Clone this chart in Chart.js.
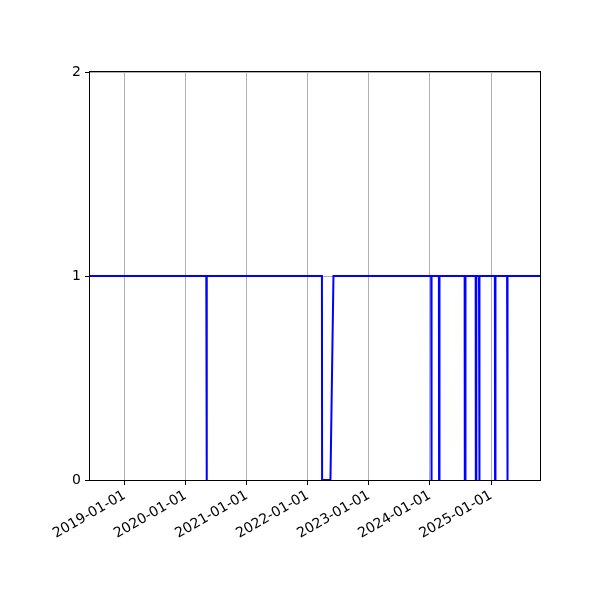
<!DOCTYPE html>
<html>
<head>
<meta charset="utf-8">
<script src="https://cdn.jsdelivr.net/npm/chart.js@4.4.1/dist/chart.umd.min.js"></script>
<style>
  html, body { margin: 0; padding: 0; background: #fff; }
</style>
</head>
<body>
<canvas id="chart" width="600" height="600"></canvas>
<script>
// sample dates and the value at each one
const dates = [
  '2018-06-07', '2020-05-03', '2020-05-04', '2020-05-06', '2020-05-07',
  '2022-03-26', '2022-03-27', '2022-05-16', '2022-06-03',
  '2024-01-09', '2024-01-10', '2024-01-11', '2024-01-12',
  '2024-02-24', '2024-02-25', '2024-02-27', '2024-02-28',
  '2024-07-27', '2024-07-28', '2024-07-31', '2024-08-01',
  '2024-10-01', '2024-10-02', '2024-10-04', '2024-10-05',
  '2024-10-21', '2024-10-22', '2024-10-24', '2024-10-25',
  '2025-01-24', '2025-01-25', '2025-01-27', '2025-01-28',
  '2025-04-07', '2025-04-08', '2025-04-10', '2025-04-11',
  '2025-10-21'
];
const values = [
  1, 1, 0, 0, 1,
  1, 0, 0, 1,
  1, 0, 0, 1,
  1, 0, 0, 1,
  1, 0, 0, 1,
  1, 0, 0, 1,
  1, 0, 0, 1,
  1, 0, 0, 1,
  1, 0, 0, 1,
  1
];
const xStart = '2018-06-07';
const xEnd = '2025-10-21';
const tickYears = [2019, 2020, 2021, 2022, 2023, 2024, 2025];
const yTicks = [0, 1, 2];

const toMs = s => Date.parse(s + 'T00:00:00Z');
const points = dates.map((d, i) => ({ x: toMs(d), y: values[i] }));

function fmtDate(ms) {
  const d = new Date(ms);
  const mm = String(d.getUTCMonth() + 1).padStart(2, '0');
  const dd = String(d.getUTCDate()).padStart(2, '0');
  return d.getUTCFullYear() + '-' + mm + '-' + dd;
}

// frame round the plot area (all four spines)
const frame = {
  id: 'frame',
  afterDraw(chart) {
    const a = chart.chartArea;
    const ctx = chart.ctx;
    ctx.save();
    ctx.strokeStyle = '#000';
    ctx.lineWidth = 1;
    ctx.strokeRect(Math.round(a.left) - 0.5, Math.round(a.top) - 0.5,
      Math.round(a.right - a.left) + 1, Math.round(a.bottom - a.top) + 1);
    ctx.restore();
  }
};

Chart.defaults.color = '#000';
Chart.defaults.font.family = '"DejaVu Sans", sans-serif';
Chart.defaults.font.size = 14;

new Chart(document.getElementById('chart').getContext('2d'), {
  type: 'line',
  data: {
    datasets: [{
      data: points,
      borderColor: '#0000ff',
      borderWidth: 2,
      pointRadius: 0,
      tension: 0,
      fill: false
    }]
  },
  options: {
    responsive: false,
    animation: false,
    layout: { padding: { left: 0, top: 72, right: 60, bottom: 0 } },
    plugins: { legend: { display: false }, tooltip: { enabled: false } },
    scales: {
      x: {
        type: 'linear',
        min: toMs(xStart),
        max: toMs(xEnd),
        afterBuildTicks: scale => {
          scale.ticks = tickYears.map(y => ({ value: Date.UTC(y, 0, 1) }));
        },
        afterFit: scale => { scale.height = 120; },
        ticks: {
          autoSkip: false,
          minRotation: 30,
          maxRotation: 30,
          padding: 2,
          callback: v => fmtDate(v)
        },
        grid: { color: '#b0b0b0', lineWidth: 1, tickColor: '#000', tickLength: 5 },
        border: { display: false }
      },
      y: {
        min: 0,
        max: 2,
        afterBuildTicks: scale => {
          scale.ticks = yTicks.map(v => ({ value: v }));
        },
        afterFit: scale => { scale.width = 90; },
        ticks: { padding: 4, callback: v => String(v) },
        grid: { color: '#b0b0b0', lineWidth: 1, tickColor: '#000', tickLength: 5 },
        border: { display: false }
      }
    }
  },
  plugins: [frame]
});
</script>
</body>
</html>
